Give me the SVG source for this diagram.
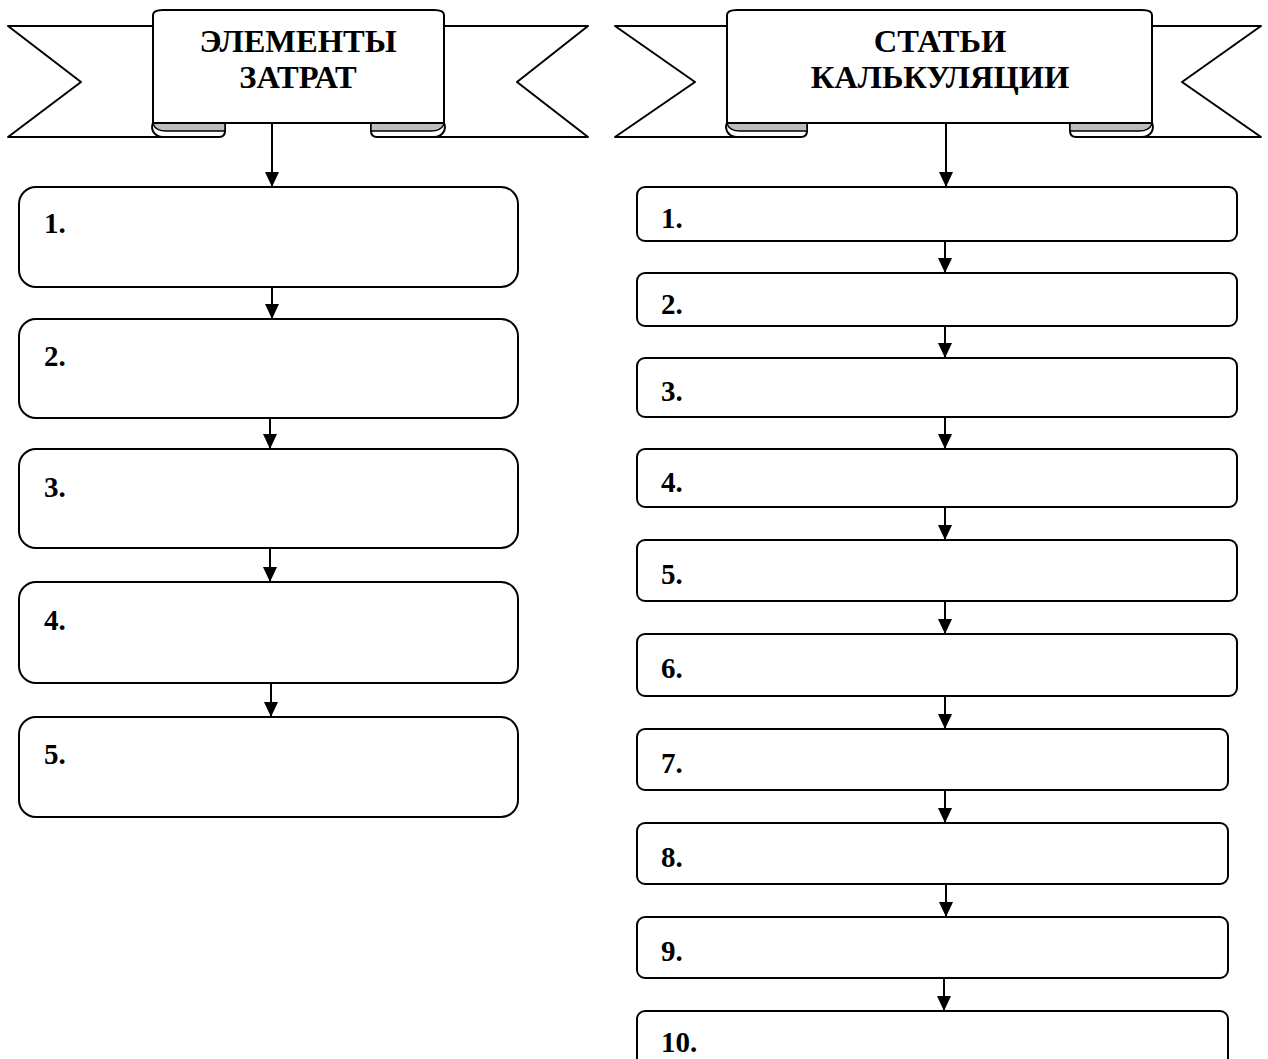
<svg xmlns="http://www.w3.org/2000/svg" width="1268" height="1059" viewBox="0 0 1268 1059">
<style>
.ln{fill:#fff;stroke:#000;stroke-width:2;stroke-linejoin:round}
.gr{fill:#bdbdbd;stroke:#000;stroke-width:1.5}
.box{fill:#fff;stroke:#000;stroke-width:2}
.t{font-family:"Liberation Serif","Times New Roman",serif;font-weight:bold;font-size:32.5px;fill:#000;text-anchor:middle}
.n{font-family:"Liberation Serif","Times New Roman",serif;font-weight:bold;font-size:29px;fill:#000}
.c{stroke:#000;stroke-width:2;fill:none;marker-end:url(#ah)}
</style>
<defs>
<marker id="ah" markerUnits="userSpaceOnUse" markerWidth="15" markerHeight="14" refX="15" refY="7" orient="auto" viewBox="0 0 15 14">
<path d="M0,0 L15,7 L0,14 Z" fill="#000"/>
</marker>
</defs>
<rect width="1268" height="1059" fill="#fff"/>

<g id="banner-left">
<path class="ln" d="M160,26 L8,26 L81,82 L8,137 L200,137"/>
<path class="ln" d="M437,26 L588,26 L517,82 L588,137 L390,137"/>
<path class="ln" d="M153,123 L225,123 L225,131 Q225,137 219,137 L163,137 C155,137 150,130 153,123 Z"/>
<path class="gr" d="M153,123 L225,123 L225,131 L166,131 Q156,131 153,124 Z"/>
<path class="ln" d="M444,123 L371,123 L371,131 Q371,137 377,137 L434,137 C442,137 447,130 444,123 Z"/>
<path class="gr" d="M444,123 L371,123 L371,131 L431,131 Q441,131 444,124 Z"/>
<path class="ln" d="M163,10 L434,10 Q444,10 444,15 L444,123 L153,123 L153,15 Q153,10 163,10 Z"/>
<text class="t" x="298" y="52">ЭЛЕМЕНТЫ</text>
<text class="t" x="298" y="88">ЗАТРАТ</text>
</g>

<g id="banner-right">
<path class="ln" d="M735,26 L615,26 L695,82 L615,137 L790,137"/>
<path class="ln" d="M1145,26 L1261,26 L1182,82 L1261,137 L1090,137"/>
<path class="ln" d="M727,123 L807,123 L807,131 Q807,137 801,137 L737,137 C729,137 724,130 727,123 Z"/>
<path class="gr" d="M727,123 L807,123 L807,131 L740,131 Q730,131 727,124 Z"/>
<path class="ln" d="M1152,123 L1070,123 L1070,131 Q1070,137 1076,137 L1142,137 C1150,137 1155,130 1152,123 Z"/>
<path class="gr" d="M1152,123 L1070,123 L1070,131 L1139,131 Q1149,131 1152,124 Z"/>
<path class="ln" d="M737,10 L1142,10 Q1152,10 1152,15 L1152,123 L727,123 L727,15 Q727,10 737,10 Z"/>
<text class="t" x="940" y="52">СТАТЬИ</text>
<text class="t" x="940" y="88">КАЛЬКУЛЯЦИИ</text>
</g>

<g id="connectors">
<path class="c" d="M272,123 V187"/>
<path class="c" d="M272,287 V319"/>
<path class="c" d="M270,418 V449"/>
<path class="c" d="M270,548 V582"/>
<path class="c" d="M271,683 V717"/>
<path class="c" d="M946,123 V187"/>
<path class="c" d="M945,241 V273"/>
<path class="c" d="M945,326 V358"/>
<path class="c" d="M945,417 V449"/>
<path class="c" d="M945,507 V540"/>
<path class="c" d="M945,601 V634"/>
<path class="c" d="M945,696 V729"/>
<path class="c" d="M945,790 V823"/>
<path class="c" d="M946,884 V917"/>
<path class="c" d="M944,978 V1011"/>
</g>

<g id="l1"><rect class="box" x="19" y="187" width="499" height="100" rx="17"/><text class="n" x="44" y="233">1.</text></g>
<g id="l2"><rect class="box" x="19" y="319" width="499" height="99" rx="17"/><text class="n" x="44" y="366">2.</text></g>
<g id="l3"><rect class="box" x="19" y="449" width="499" height="99" rx="17"/><text class="n" x="44" y="497">3.</text></g>
<g id="l4"><rect class="box" x="19" y="582" width="499" height="101" rx="17"/><text class="n" x="44" y="630">4.</text></g>
<g id="l5"><rect class="box" x="19" y="717" width="499" height="100" rx="17"/><text class="n" x="44" y="764">5.</text></g>

<g id="r1"><rect class="box" x="637" y="187" width="600" height="54" rx="8"/><text class="n" x="661" y="228">1.</text></g>
<g id="r2"><rect class="box" x="637" y="273" width="600" height="53" rx="8"/><text class="n" x="661" y="314">2.</text></g>
<g id="r3"><rect class="box" x="637" y="358" width="600" height="59" rx="8"/><text class="n" x="661" y="401">3.</text></g>
<g id="r4"><rect class="box" x="637" y="449" width="600" height="58" rx="8"/><text class="n" x="661" y="492">4.</text></g>
<g id="r5"><rect class="box" x="637" y="540" width="600" height="61" rx="8"/><text class="n" x="661" y="584">5.</text></g>
<g id="r6"><rect class="box" x="637" y="634" width="600" height="62" rx="8"/><text class="n" x="661" y="678">6.</text></g>
<g id="r7"><rect class="box" x="637" y="729" width="591" height="61" rx="8"/><text class="n" x="661" y="773">7.</text></g>
<g id="r8"><rect class="box" x="637" y="823" width="591" height="61" rx="8"/><text class="n" x="661" y="867">8.</text></g>
<g id="r9"><rect class="box" x="637" y="917" width="591" height="61" rx="8"/><text class="n" x="661" y="961">9.</text></g>
<g id="r10"><rect class="box" x="637" y="1011" width="591" height="61" rx="8"/><text class="n" x="661" y="1052">10.</text></g>
</svg>
